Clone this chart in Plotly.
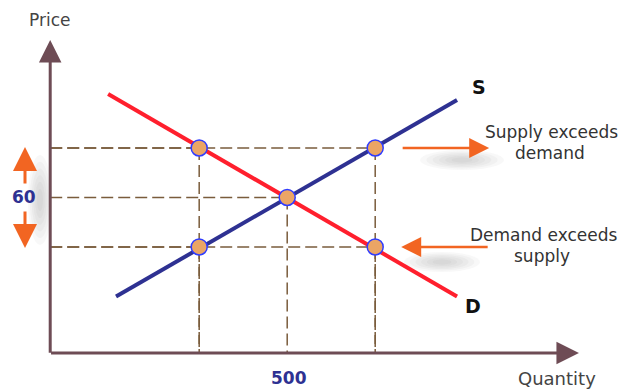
import plotly.graph_objects as go

# Supply and demand lines (quantity, price).
supply_qty = [111, 886]
supply_price = [20, 99.4]
demand_qty = [93, 886]
demand_price = [101.8, 20]

# Marked points on the curves.
point_qty = [300, 700, 500, 300, 700]
point_price = [80, 80, 60, 40, 40]

# Where the two axes meet and where their arrows end.
axis_qty = [-38.6, 1163]
axis_price = [-2.8, 123.6]

W, H = 629, 390
AXIS = '#6e4c55'
DASH = '#7a5c3c'
ORANGE = '#f26522'
NAVY = '#2e3192'
FONT = 'DejaVu Sans'


def px(x):
    return x / W


def py(y):
    return 1 - y / H


fig = go.Figure()

# Soft grey shadows behind the orange arrows.
def add_shadow(cx, cy, rx, ry):
    for k in range(6):
        f = 1 - k * 0.15
        fig.add_shape(type='circle', xref='paper', yref='paper', layer='below',
                      x0=px(cx - rx * f), x1=px(cx + rx * f),
                      y0=py(cy + ry * f), y1=py(cy - ry * f),
                      fillcolor='#808080', opacity=0.06, line_width=0)


add_shadow(40, 200, 12, 45)
add_shadow(462, 160, 42, 10)
add_shadow(442, 262, 38, 10)

# Dashed guide lines from each point to the axes.
for q, p in zip(point_qty, point_price):
    fig.add_trace(go.Scatter(x=[axis_qty[0], q], y=[p, p], mode='lines',
                             line=dict(color=DASH, width=1.5, dash='12px,5px'),
                             hoverinfo='skip'))
    fig.add_trace(go.Scatter(x=[q, q], y=[p, axis_price[0]], mode='lines',
                             line=dict(color=DASH, width=1.5, dash='12px,5px'),
                             hoverinfo='skip'))

fig.add_trace(go.Scatter(x=demand_qty, y=demand_price, mode='lines',
                         line=dict(color='#ff1f2d', width=4)))
fig.add_trace(go.Scatter(x=supply_qty, y=supply_price, mode='lines',
                         line=dict(color=NAVY, width=4)))
fig.add_trace(go.Scatter(x=point_qty, y=point_price, mode='markers',
                         marker=dict(size=16, color='#eba565',
                                     line=dict(color='#2f3cff', width=1.5))))

# Axes as arrows.
arrows = [
    dict(x=axis_qty[1], y=axis_price[0], ax=axis_qty[0] - 1.5, ay=axis_price[0],
         xref='x', yref='y', axref='x', ayref='y', arrowcolor=AXIS,
         arrowwidth=3, arrowsize=1.5, arrowhead=2),
    dict(x=axis_qty[0], y=axis_price[1], ax=axis_qty[0], ay=axis_price[0] - 0.6,
         xref='x', yref='y', axref='x', ayref='y', arrowcolor=AXIS,
         arrowwidth=3, arrowsize=1.5, arrowhead=2),
    # Surplus / shortage arrows.
    dict(x=959, y=80, ax=759, ay=80, xref='x', yref='y', axref='x', ayref='y',
         arrowcolor=ORANGE, arrowwidth=2.5, arrowsize=1.6, arrowhead=2),
    dict(x=759, y=40, ax=959, ay=40, xref='x', yref='y', axref='x', ayref='y',
         arrowcolor=ORANGE, arrowwidth=2.5, arrowsize=1.6, arrowhead=2),
    dict(x=px(25), y=py(147), ax=0, ay=38, xref='paper', yref='paper',
         axref='pixel', ayref='pixel', arrowcolor=ORANGE, arrowwidth=3,
         arrowsize=1.6, arrowhead=2),
    dict(x=px(25), y=py(248), ax=0, ay=-38, xref='paper', yref='paper',
         axref='pixel', ayref='pixel', arrowcolor=ORANGE, arrowwidth=3,
         arrowsize=1.6, arrowhead=2),
]
for a in arrows:
    fig.add_annotation(text='', showarrow=True, standoff=0, startstandoff=0, **a)

labels = [
    ('Price', 49, 20, 17, '#444444', False),
    ('Quantity', 557, 378, 18, '#444444', False),
    ('500', 289, 378, 17, NAVY, True),
    ('60', 24, 197, 17, NAVY, True),
    ('S', 479, 87, 19, '#111111', True),
    ('D', 473, 306, 19, '#111111', True),
    ('Supply exceeds', 551, 132, 17, '#333333', False),
    ('demand', 550, 153, 17, '#333333', False),
    ('Demand exceeds', 543, 235, 17, '#333333', False),
    ('supply', 542, 256, 17, '#333333', False),
]
for text, x, y, size, color, bold in labels:
    fig.add_annotation(text=f'<b>{text}</b>' if bold else text,
                       x=px(x), y=py(y), xref='paper', yref='paper',
                       showarrow=False, xanchor='center', yanchor='middle',
                       font=dict(family=FONT, size=size, color=color))

fig.update_layout(width=W, height=H, margin=dict(l=0, r=0, t=0, b=0),
                  paper_bgcolor='white', plot_bgcolor='white',
                  showlegend=False,
                  xaxis=dict(range=[-152.7, 1276.8], visible=False),
                  yaxis=dict(range=[-17.8, 139.8], visible=False))

fig.write_html('out.html', config={'displayModeBar': False},
               post_script="document.body.style.margin='0';")
